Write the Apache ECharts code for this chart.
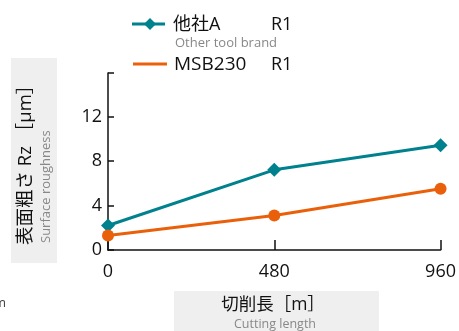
<!DOCTYPE html>
<html><head><meta charset="utf-8">
<script src="https://cdn.jsdelivr.net/npm/echarts@6/dist/echarts.min.js"></script>
<style>html,body{margin:0;padding:0;background:#fff}#c{width:459px;height:331px}</style>
</head><body><div id="c"></div>
<script>
const xValues = [0, 480, 960];
const otherBrand = [2.2, 7.2, 9.4];
const msb230 = [1.3, 3.1, 5.5];
const yTicks = [0, 4, 8, 12];
const seriesNames = ['他社A', 'MSB230'];
const legendSuffix = 'R1';
const legendSub = 'Other tool brand';
const yTitle = '表面粗さ Rz ［μm］';
const ySub = 'Surface roughness';
const xTitle = '切削長［m］';
const xSub = 'Cutting length';

const FONT = "'Open Sans','Noto Sans CJK JP',sans-serif";
const TEAL = '#00818E', ORANGE = '#EA600A';
const chart = echarts.init(document.getElementById('c'), null, {renderer:'canvas'});
const pairs = a => xValues.map((x,i)=>[x,a[i]]);
chart.setOption({
  animation:false,
  grid:{left:108,right:17,top:73,bottom:81,containLabel:false},
  xAxis:{type:'value',min:0,max:960,interval:480,
    axisLine:{lineStyle:{color:'#111',width:1.5}},
    axisTick:{inside:true,length:10,lineStyle:{color:'#111',width:1.5}},
    axisLabel:{color:'#111',fontSize:18,fontFamily:FONT,margin:13},
    splitLine:{show:false}},
  yAxis:{type:'value',min:0,max:15.9,interval:4,
    axisLine:{show:true,lineStyle:{color:'#111',width:1.5}},
    axisTick:{show:true,inside:true,length:6,lineStyle:{color:'#111',width:1.5}},
    axisLabel:{color:'#111',fontSize:18,fontFamily:FONT,margin:6,
      formatter:v=>yTicks.includes(v)?String(v):''},
    splitLine:{show:false}},
  series:[
    {name:seriesNames[0],type:'line',data:pairs(otherBrand),symbol:'diamond',symbolSize:14,
     lineStyle:{color:TEAL,width:3},itemStyle:{color:TEAL},z:3},
    {name:seriesNames[1],type:'line',data:pairs(msb230),symbol:'circle',symbolSize:12,
     lineStyle:{color:ORANGE,width:3},itemStyle:{color:ORANGE},z:3}
  ],
  graphic:[
    // legend
    {type:'line',shape:{x1:132,y1:24,x2:165,y2:24},style:{stroke:TEAL,lineWidth:3}},
    {type:'polygon',shape:{points:[[150,18],[156,24],[150,30],[144,24]]},style:{fill:TEAL}},
    {type:'text',x:173,y:25,style:{text:seriesNames[0],font:'18px '+FONT,fill:'#111',verticalAlign:'middle'}},
    {type:'text',x:271,y:25,style:{text:legendSuffix,font:'18px '+FONT,fill:'#111',verticalAlign:'middle'}},
    {type:'text',x:175,y:43,style:{text:legendSub,font:'13px '+FONT,fill:'#888',verticalAlign:'middle'}},
    {type:'line',shape:{x1:133,y1:64,x2:167,y2:64},style:{stroke:ORANGE,lineWidth:3}},
    {type:'text',x:174,y:65,style:{text:seriesNames[1],font:'19px '+FONT,fill:'#111',verticalAlign:'middle'}},
    {type:'text',x:271,y:65,style:{text:legendSuffix,font:'18px '+FONT,fill:'#111',verticalAlign:'middle'}},
    // y title box
    {type:'rect',shape:{x:11,y:58,width:46,height:205},style:{fill:'#EFEFEF'},z:-1},
    {type:'text',x:26,y:245,rotation:Math.PI/2,style:{text:yTitle,font:'18.5px '+FONT,fill:'#111',align:'left',verticalAlign:'middle'}},
    {type:'text',x:46,y:243,rotation:Math.PI/2,style:{text:ySub,font:'13px '+FONT,fill:'#888',align:'left',verticalAlign:'middle'}},
    // x title box
    {type:'rect',shape:{x:174,y:291,width:205,height:40},style:{fill:'#EFEFEF'},z:-1},
    {type:'text',x:273,y:305,style:{text:xTitle,font:'17.5px '+FONT,fill:'#111',align:'center',verticalAlign:'middle'}},
    {type:'text',x:275,y:324,style:{text:xSub,font:'12.5px '+FONT,fill:'#888',align:'center',verticalAlign:'middle'}},
    // clipped glyph at left edge
    {type:'text',x:6,y:303,style:{text:'m',font:'13px '+FONT,fill:'#444',align:'right',verticalAlign:'middle'}}
  ]
});
</script></body></html>
